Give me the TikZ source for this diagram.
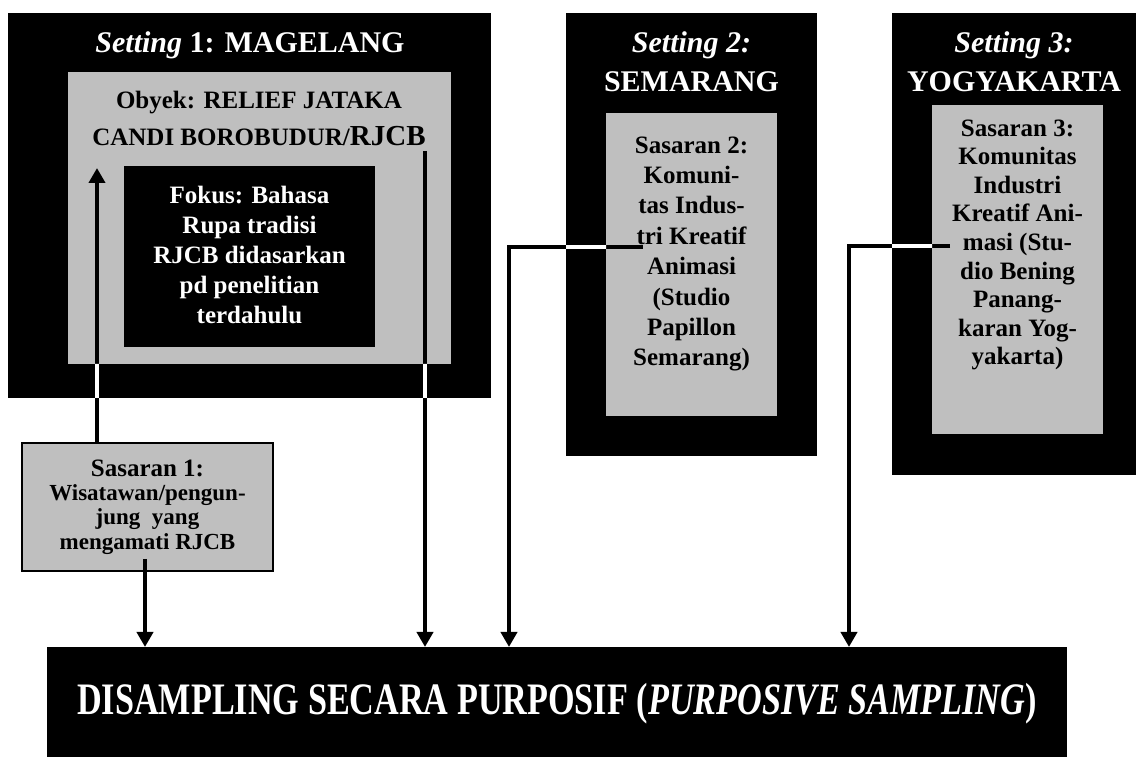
\documentclass[tikz,border=0pt]{standalone}
\usepackage{fontspec}
\setmainfont{Liberation Serif}
\newfontfamily\narrowfont{Liberation Serif}[FakeStretch=0.76]
\usetikzlibrary{arrows.meta, positioning}
\tikzset{frame/.style={fill=black, inner sep=0pt, outer sep=0pt, anchor=north west}}
\tikzset{panel/.style={fill=black!25, inner sep=0pt, outer sep=0pt, anchor=north west}}
\tikzset{head/.style={text=white, font=\bfseries\fontsize{15}{19.5}\selectfont, align=center, inner sep=0pt}}
\tikzset{body/.style={font=\bfseries\fontsize{12.5}{15}\selectfont, align=center, inner sep=0pt}}
\tikzset{link/.style={line width=2.3pt}, tip/.style={-{Triangle[width=8pt,length=7.5pt]}}}

\begin{document}
\begin{tikzpicture}[x=0.5pt, y=-0.5pt]
            \useasboundingbox (0,0) rectangle (1136,758);

            \node[frame, minimum width=241.5pt, minimum height=192.5pt] (set1) at (8,13) {};
            \node[panel, minimum width=191.5pt, minimum height=146pt] (obj) at (68,72) {};
            \node[frame, minimum width=125.5pt, minimum height=90.5pt] (fok) at (124,166) {};
            \node[frame, minimum width=125.5pt, minimum height=221.5pt] (set2) at (566,13) {};
            \node[panel, minimum width=85.5pt, minimum height=151.5pt] (sas2) at (606,113) {};
            \node[frame, minimum width=122pt, minimum height=231pt] (set3) at (892,13) {};
            \node[panel, minimum width=85.5pt, minimum height=164.5pt] (sas3) at (932,105) {};
            \node[panel, draw=black, line width=0.8pt, minimum width=125.5pt, minimum height=64pt] (sas1) at (22,443) {};
            \node[frame, minimum width=510pt, minimum height=55pt] (samp) at (47,647) {};

            \node[head, anchor=base] (set1txt) at (250,53) {\textit{Setting} 1: MAGELANG};
            \node[body, font=\bfseries\fontsize{12.5}{18.5}\selectfont] (objtxt) at (259,118)
                {Obyek: RELIEF JATAKA\\ CANDI BOROBUDUR/{\fontsize{14.5}{18.5}\selectfont RJCB}};
            \node[body, text=white] (foktxt) at (249.5,254.5)
                {Fokus: Bahasa\\ Rupa tradisi\\ RJCB didasarkan\\ pd penelitian\\ terdahulu};
            \node[head] (set2txt) at (691.5,62) {\textit{Setting 2:}\\ SEMARANG};
            \node[body, font=\bfseries\fontsize{12.5}{15.2}\selectfont] (sas2txt) at (691.5,254)
                {Sasaran 2:\\ Komuni-\\ tas Indus-\\ tri Kreatif\\ Animasi\\ (Studio\\ Papillon\\ Semarang)};
            \node[head] (set3txt) at (1014,62) {\textit{Setting 3:}\\ YOGYAKARTA};
            \node[body, font=\bfseries\fontsize{12.5}{14.3}\selectfont] (sas3txt) at (1017.5,245)
                {Sasaran 3:\\ Komunitas\\ Industri\\ Kreatif Ani-\\ masi (Stu-\\ dio Bening\\ Panang-\\ karan Yog-\\ yakarta)};
            \node[body, font=\bfseries\fontsize{11.5}{12.2}\selectfont] (sas1txt) at (147.5,507)
                {{\fontsize{12.5}{12.2}\selectfont Sasaran 1:}\\ Wisatawan/pengun-\\ jung\ \ yang\\ mengamati RJCB};
            \node[head, font=\narrowfont\bfseries\fontsize{22.5}{27}\selectfont, anchor=base] (samptxt) at (557,715)
                {DISAMPLING SECARA PURPOSIF (\textit{PURPOSIVE SAMPLING})};

            \coordinate (objin) at (97,168);
            \coordinate (objout) at (425,151);
            \coordinate (s1out) at (145,559);
            \coordinate (s2out) at (643,247);
            \coordinate (bend2) at (509,247);
            \coordinate (s3out) at (950,246);
            \coordinate (bend3) at (849,246);

            \draw[link, tip] (sas1.north -| objin) -- (objin);
            \draw[link, tip] (s1out) -- (s1out |- samp.north);
            \draw[link, tip] (objout) -- (objout |- samp.north);
            \draw[link, tip] (s2out) -- (bend2) -- (bend2 |- samp.north);
            \draw[link, tip] (s3out) -- (bend3) -- (bend3 |- samp.north);

            % white where the links cross the black frames
            \begin{scope}[even odd rule]
                \clip (set1.north west) rectangle (set1.south east)
                    (obj.north west) rectangle (obj.south east)
                    (set2.north west) rectangle (set2.south east)
                    (sas2.north west) rectangle (sas2.south east)
                    (set3.north west) rectangle (set3.south east)
                    (sas3.north west) rectangle (sas3.south east);
                \draw[link, white] (sas1.north -| objin) -- (objin)
                    (objout) -- (objout |- samp.north)
                    (s2out) -- (bend2)
                    (s3out) -- (bend3);
            \end{scope}
\end{tikzpicture}
\end{document}
